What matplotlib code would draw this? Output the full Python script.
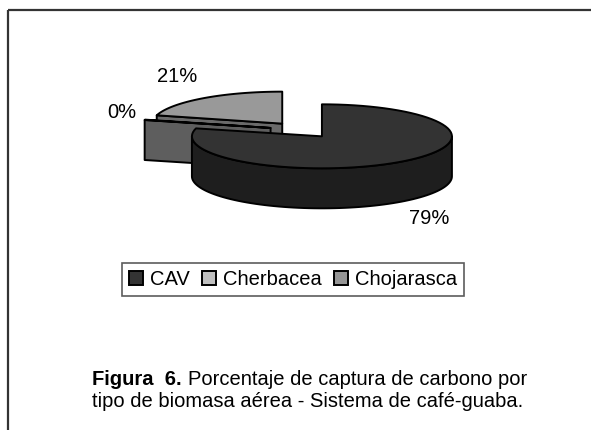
import numpy as np
import matplotlib
matplotlib.use('Agg')
import matplotlib.pyplot as plt
from matplotlib.patches import Polygon, Patch

plt.rcParams['font.family'] = ['Liberation Sans', 'DejaVu Sans']

# data (percent of carbon capture by biomass type)
categories = ['CAV', 'Cherbacea', 'Chojarasca']
values = [79.0, 0.2, 20.8]

# colours: top face, side face, legend
top_colors = ['#333333', '#c0c0c0', '#999999']
side_colors = ['#1e1e1e', '#5e5e5e', '#6a6a6a']
legend_colors = ['#333333', '#c0c0c0', '#969696']

# pie geometry (pixels)
cx, cy = 302, 130
rx, ry = 130, 32
depth = 40
explode = 0.25

# where excel put the % labels
label_pos = [(429, 218), (122, 112), (177, 77)]

fig = plt.figure(figsize=(5.91, 4.30), dpi=100)
ax = fig.add_axes([0, 0, 1, 1])
ax.set_xlim(0, 591)
ax.set_ylim(430, 0)
ax.axis('off')

# frame (top and left only)
ax.plot([8, 591], [10, 10], color='#333333', lw=1.6, solid_capstyle='butt')
ax.plot([8, 8], [10, 430], color='#333333', lw=1.6, solid_capstyle='butt')


def rim(x0, y0, a):
    a = np.radians(a)
    return x0 + rx * np.sin(a), y0 - ry * np.cos(a)


def arc(x0, y0, a0, a1, n=80):
    t = np.linspace(a0, a1, n)
    xs, ys = rim(x0, y0, t)
    return np.column_stack([xs, ys])


def face(pts, color, z):
    ax.add_patch(Polygon(pts, closed=True, facecolor=color, edgecolor='black',
                         lw=1.4, joinstyle='round', zorder=z))


total = sum(values)
angles = np.concatenate([[0], np.cumsum(values) / total * 360])

# back slices first so the front one covers them
order = [2, 1, 0]
z = 2
for i in order:
    a0, a1 = angles[i], angles[i + 1]
    mid = np.radians((a0 + a1) / 2)
    ox = cx + explode * rx * np.sin(mid)
    oy = cy - explode * ry * np.cos(mid)

    # radial cut faces that look toward the viewer
    for a, vis in [(a0, np.sin(np.radians(a0)) < -1e-6),
                   (a1, np.sin(np.radians(a1)) > 1e-6)]:
        if vis:
            px, py = rim(ox, oy, a)
            face([(ox, oy), (px, py), (px, py + depth), (ox, oy + depth)],
                 side_colors[i], z)
            z += 1

    # outer wall, front half only
    s0, s1 = max(a0, 90), min(a1, 270)
    if s1 > s0:
        top = arc(ox, oy, s0, s1)
        bot = top[::-1] + [0, depth]
        face(np.vstack([top, bot]), side_colors[i], z)
        z += 1

    # top face
    face(np.vstack([[ox, oy], arc(ox, oy, a0, a1)]), top_colors[i], z)
    z += 1

for (lx, ly), v in zip(label_pos, values):
    ax.text(lx, ly, '%d%%' % round(v / total * 100), fontsize=14.5,
            ha='center', va='center', zorder=20)

handles = [Patch(facecolor=c, edgecolor='black', lw=1.4) for c in legend_colors]
leg = ax.legend(handles, categories, loc='center', bbox_to_anchor=(293, 279.5),
                bbox_transform=ax.transData, ncol=3, fontsize=14.5,
                frameon=True, fancybox=False, edgecolor='#333333',
                handlelength=0.7, handleheight=0.7, handletextpad=0.35,
                columnspacing=0.6, borderpad=0.35, borderaxespad=0)
leg.get_frame().set_linewidth(1.2)

# caption
ax.text(92, 385, 'Figura  6.', fontsize=14.5, fontweight='bold', va='baseline')
ax.text(188, 385, 'Porcentaje de captura de carbono por', fontsize=14.5, va='baseline')
ax.text(92, 407, 'tipo de biomasa aérea - Sistema de café-guaba.', fontsize=14.5,
        va='baseline')

fig.savefig('out.png', dpi=100)
